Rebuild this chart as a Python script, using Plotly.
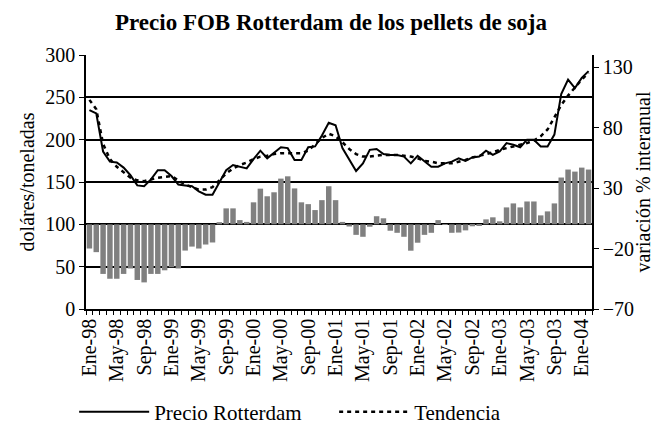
import plotly.graph_objects as go

months = [
    "Ene-98", "Feb-98", "Mar-98", "Abr-98", "May-98", "Jun-98", "Jul-98", "Ago-98", "Sep-98", "Oct-98", "Nov-98", "Dic-98",
    "Ene-99", "Feb-99", "Mar-99", "Abr-99", "May-99", "Jun-99", "Jul-99", "Ago-99", "Sep-99", "Oct-99", "Nov-99", "Dic-99",
    "Ene-00", "Feb-00", "Mar-00", "Abr-00", "May-00", "Jun-00", "Jul-00", "Ago-00", "Sep-00", "Oct-00", "Nov-00", "Dic-00",
    "Ene-01", "Feb-01", "Mar-01", "Abr-01", "May-01", "Jun-01", "Jul-01", "Ago-01", "Sep-01", "Oct-01", "Nov-01", "Dic-01",
    "Ene-02", "Feb-02", "Mar-02", "Abr-02", "May-02", "Jun-02", "Jul-02", "Ago-02", "Sep-02", "Oct-02", "Nov-02", "Dic-02",
    "Ene-03", "Feb-03", "Mar-03", "Abr-03", "May-03", "Jun-03", "Jul-03", "Ago-03", "Sep-03", "Oct-03", "Nov-03", "Dic-03",
    "Ene-04", "Feb-04",
]

tick_labels = ["Ene-98", "May-98", "Sep-98", "Ene-99", "May-99", "Sep-99", "Ene-00", "May-00", "Sep-00",
               "Ene-01", "May-01", "Sep-01", "Ene-02", "May-02", "Sep-02", "Ene-03", "May-03", "Sep-03", "Ene-04"]

precio = [
    235, 231, 186, 174, 173, 167, 158, 146, 145, 153, 164, 164,
    157, 147, 146, 145, 139, 135, 135, 150, 164, 170, 168, 166,
    177, 187, 178, 184, 191, 190, 176, 176, 191, 192, 205, 220,
    217, 190, 176, 163, 172, 188, 189, 183, 182, 182, 180, 172,
    181, 175, 168, 168, 172, 174, 178, 175, 179, 180, 187, 182,
    186, 196, 194, 191, 200, 200, 192, 192, 206, 254, 271, 261,
    273, 281,
]

tendencia = [
    247, 236, 195, 177, 168, 162, 155, 152, 151, 153, 155, 156,
    157, 152, 147, 144, 141, 141, 144, 152, 160, 166, 170, 173,
    177, 180, 181, 183, 184, 184, 184, 184, 187, 195, 202, 207,
    204, 197, 189, 183, 180, 180, 181, 182, 182, 182, 181, 180,
    178, 175, 174, 172, 172, 172, 174, 176, 179, 181, 183, 185,
    188, 190, 192, 194, 196, 199, 204, 212, 226, 241, 252, 262,
    271, 279,
]

variacion = [
    -20, -23, -41, -45, -45, -41, -36.5, -46, -48, -41, -41, -38,
    -35.5, -36.5, -21.7, -18.4, -20, -16.7, -15, 1.8, 13.2, 13.2, 3.5, 2,
    18.2, 29.5, 23.2, 26.5, 37.8, 39.7, 29.7, 18.2, 16.7, 11.8, 20, 31.5,
    20, 2, -1.8, -8.7, -10.3, -2, 6.7, 5, -5.3, -7, -10.3, -21.8,
    -15.2, -8.7, -7, 3.5, -0.5, -7, -6.8, -5, -1.6, -1.4, 4.1, 5.8,
    2.5, 14, 17.3, 14, 18.9, 18.9, 7.4, 10.7, 17.3, 38.7, 45.3, 43.6,
    46.9, 45.3,
]

left_ticks = [0, 50, 100, 150, 200, 250, 300]
right_ticks = [-70, -20, 30, 80, 130]

FONT = "Liberation Serif, Times New Roman, serif"

fig = go.Figure()

fig.add_trace(go.Bar(
    x=months, y=variacion, yaxis="y2",
    marker=dict(color="#808080", line=dict(width=0)),
    showlegend=False, name="variación % interanual",
))
fig.add_trace(go.Scatter(
    x=months, y=precio, mode="lines", name="Precio Rotterdam",
    line=dict(color="black", width=2),
))
fig.add_trace(go.Scatter(
    x=months, y=tendencia, mode="lines", name="Tendencia",
    line=dict(color="black", width=2.5, dash="4px,4px"),
))

tick_text = [m if m in tick_labels else "" for m in months]

# page body has an 8px default margin: figure is 646x418 so it sits inside 662x434
fig.update_layout(
    width=646, height=418,
    margin=dict(l=78, r=62, t=47, b=117, autoexpand=False),
    paper_bgcolor="white", plot_bgcolor="white",
    font=dict(family=FONT, size=20, color="black"),
    title=dict(text="<b>Precio FOB Rotterdam de los pellets de soja</b>",
               x=0.5, xanchor="center", y=0.9665, yanchor="middle",
               font=dict(family=FONT, size=23, color="black")),
    bargap=0.2,
    xaxis=dict(
        type="category", categoryorder="array", categoryarray=months,
        tickmode="array", tickvals=months, ticktext=tick_text,
        tickangle=-90, tickson="boundaries", ticks="outside", ticklen=4,
        tickcolor="black", tickwidth=1,
        showline=True, linecolor="black", linewidth=1.5,
        showgrid=False, tickfont=dict(size=20), automargin=False,
    ),
    yaxis=dict(
        range=[0, 300], tickvals=left_ticks, ticks="outside", ticklen=5,
        tickcolor="black", showline=True, linecolor="black", linewidth=1.5,
        showgrid=True, gridcolor="black", gridwidth=1.5, zeroline=False,
        title=dict(text="doláres/toneladas", font=dict(size=20), standoff=5),
        tickfont=dict(size=20), automargin=False,
    ),
    yaxis2=dict(
        overlaying="y", side="right", range=[-70, 140], tickvals=right_ticks,
        ticks="outside", ticklen=5, tickcolor="black",
        showline=True, linecolor="black", linewidth=1.5,
        showgrid=False, zeroline=False,
        title=dict(text="variación % interanual", font=dict(size=20), standoff=2),
        tickfont=dict(size=20), automargin=False,
    ),
    legend=dict(
        orientation="h", x=-0.0234, xanchor="left", y=-0.4055, yanchor="middle",
        font=dict(size=21), itemwidth=70, entrywidth=175, entrywidthmode="pixels",
        bgcolor="rgba(0,0,0,0)", borderwidth=0,
    ),
)

fig.write_html("out.html")
